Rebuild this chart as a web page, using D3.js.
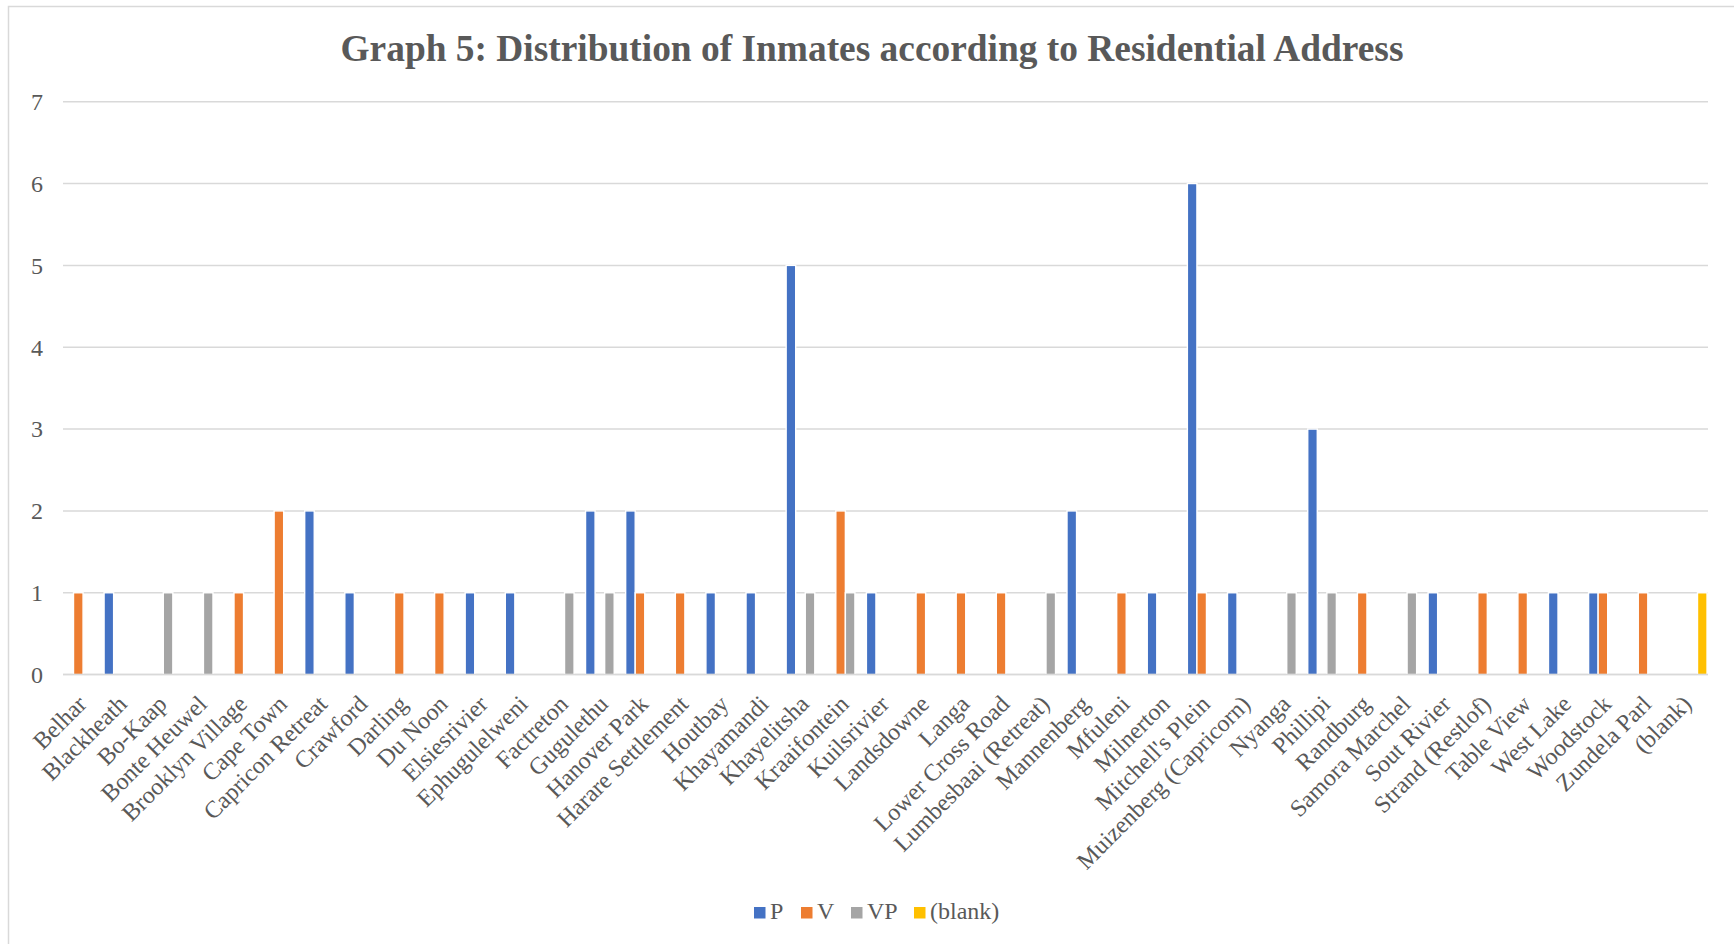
<!DOCTYPE html>
<html>
<head>
<meta charset="utf-8">
<script src="https://cdn.jsdelivr.net/npm/d3@7"></script>
<style>
  html, body { margin: 0; padding: 0; background: #fff; }
  svg { display: block; }
  text { font-family: "Liberation Serif", "Times New Roman", serif; fill: #595959; }
</style>
</head>
<body>
<svg id="chart" width="1734" height="944"></svg>
<script>
const categories = ["Belhar","Blackheath","Bo-Kaap","Bonte Heuwel","Brooklyn Village","Cape Town","Capricon Retreat","Crawford","Darling","Du Noon","Elsiesrivier","Ephugulelweni","Factreton","Gugulethu","Hanover Park","Harare Settlement","Houtbay","Khayamandi","Khayelitsha","Kraaifontein","Kuilsrivier","Landsdowne","Langa","Lower Cross Road","Lumbesbaai (Retreat)","Mannenberg","Mfuleni","Milnerton","Mitchell's Plein","Muizenberg (Capricorn)","Nyanga","Phillipi","Randburg","Samora Marchel","Sout Rivier","Strand (Restlof)","Table View","West Lake","Woodstock","Zundela Parl","(blank)"];
const seriesNames = ["P","V","VP","(blank)"];
const valuesP     = [0,1,0,0,0,0,2,1,0,0,1,1,0,2,2,0,1,1,5,0,1,0,0,0,0,2,0,1,6,1,0,3,0,0,1,0,0,1,1,0,0];
const valuesV     = [1,0,0,0,1,2,0,0,1,1,0,0,0,0,1,1,0,0,0,2,0,1,1,1,0,0,1,0,1,0,0,0,1,0,0,1,1,0,1,1,0];
const valuesVP    = [0,0,1,1,0,0,0,0,0,0,0,0,1,1,0,0,0,0,1,1,0,0,0,0,1,0,0,0,0,0,1,1,0,1,0,0,0,0,0,0,0];
const valuesBlank = [0,0,0,0,0,0,0,0,0,0,0,0,0,0,0,0,0,0,0,0,0,0,0,0,0,0,0,0,0,0,0,0,0,0,0,0,0,0,0,0,1];
const yTicks = [0,1,2,3,4,5,6,7];
const colors = ["#4472C4","#ED7D31","#A5A5A5","#FFC000"];
const titleText = "Graph 5: Distribution of Inmates according to Residential Address";

const seriesValues = [valuesP, valuesV, valuesVP, valuesBlank];
const data = categories.map((c, i) => ({cat: c, vals: seriesNames.map((s, j) => ({key: s, j, v: seriesValues[j][i]}))}));

const svg = d3.select("#chart");
const plot = {left: 63, right: 1708, top: 101.7, bottom: 674.6};

// outer border
svg.append("rect").attr("x", 8.5).attr("y", 6.5).attr("width", 1800).attr("height", 1000)
  .attr("fill", "none").attr("stroke", "#D9D9D9").attr("stroke-width", 1.5);

const gapRatio = 0.2 / 4.2;
const x0 = d3.scaleBand().domain(categories).range([plot.left, plot.right])
  .paddingInner(gapRatio).paddingOuter(gapRatio / 2);
const x1 = d3.scaleBand().domain(seriesNames).range([0, x0.bandwidth()]);
const y = d3.scaleLinear().domain([0, 7]).range([plot.bottom, plot.top]);

// gridlines
svg.append("g").selectAll("line").data(yTicks).join("line")
  .attr("x1", plot.left).attr("x2", plot.right)
  .attr("y1", d => y(d)).attr("y2", d => y(d))
  .attr("stroke", "#D9D9D9").attr("stroke-width", 1.5);

// y labels
svg.append("g").selectAll("text").data(yTicks).join("text")
  .attr("x", 43).attr("y", d => y(d)).attr("dy", "0.35em")
  .attr("text-anchor", "end").attr("font-size", 24).text(d => d);

// bars
const groups = svg.append("g").selectAll("g").data(data).join("g")
  .attr("transform", d => `translate(${x0(d.cat)},0)`);
groups.selectAll("rect").data(d => d.vals.filter(e => e.v > 0)).join("rect")
  .attr("x", d => x1(d.key)).attr("width", x1.bandwidth())
  .attr("y", d => y(d.v)).attr("height", d => y(0) - y(d.v))
  .attr("fill", d => colors[d.j]).attr("stroke", "#fff").attr("stroke-width", 1.4);

// baseline
svg.append("line").attr("x1", plot.left).attr("x2", plot.right)
  .attr("y1", y(0)).attr("y2", y(0)).attr("stroke", "#D9D9D9").attr("stroke-width", 1.5);

// x labels
svg.append("g").selectAll("text").data(categories).join("text")
  .attr("transform", d => `translate(${x0(d) + x0.bandwidth() / 2 - 1},${plot.bottom + 25}) rotate(-45)`)
  .attr("text-anchor", "end").attr("dy", "0.35em").attr("font-size", 24).text(d => d);

// title
svg.append("text").attr("x", 872).attr("y", 61).attr("text-anchor", "middle")
  .attr("font-size", 37.4).attr("font-weight", "bold").text(titleText);

// legend
const legendX = [754, 801, 851, 914];
const lg = svg.append("g").selectAll("g").data(seriesNames).join("g")
  .attr("transform", (d, i) => `translate(${legendX[i]},907)`);
lg.append("rect").attr("width", 11.5).attr("height", 11.5).attr("fill", (d, i) => colors[i]);
lg.append("text").attr("x", 16).attr("y", 12).attr("font-size", 24).text(d => d);
</script>
</body>
</html>
